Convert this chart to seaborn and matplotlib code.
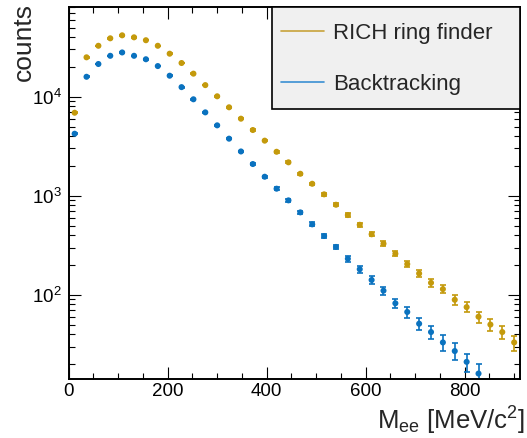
import matplotlib
matplotlib.use("Agg")
import matplotlib.pyplot as plt
import numpy as np
import pandas as pd
import seaborn as sns
from matplotlib.lines import Line2D
from matplotlib.patches import Rectangle
from matplotlib.ticker import LogLocator, MultipleLocator, NullFormatter

# ---------------- data ----------------
mass_rich = [12, 36, 60, 84, 108, 132, 156, 180, 204, 228, 252, 276, 300, 324,
             348, 372, 396, 420, 444, 468, 492, 516, 540, 564, 588, 612, 636,
             660, 684, 708, 732, 756, 780, 804, 828, 852, 876, 900]
counts_rich = [6890, 25000, 32700, 38900, 41700, 39800, 37200, 32700, 27200,
               21900, 17100, 13100, 10100, 7820, 6000, 4610, 3600, 2780, 2175,
               1667, 1321, 1033, 811, 638, 509, 408, 328, 260, 204, 164, 132,
               114, 89, 75, 60, 50, 42, 33]
err_rich = [83, 158, 181, 197, 204, 200, 193, 181, 165, 148, 131, 114, 100, 88,
            77, 68, 60, 53, 47, 41, 36, 32, 28, 25, 23, 20, 18, 16, 14, 13,
            11.5, 10.7, 9.4, 8.7, 7.7, 7.1, 6.5, 5.7]

mass_back = [12, 36, 60, 84, 108, 132, 156, 180, 204, 228, 252, 276, 300, 324,
             348, 372, 396, 420, 444, 468, 492, 516, 540, 564, 588, 612, 636,
             660, 684, 708, 732, 756, 780, 804, 828]
counts_back = [4230, 15900, 21400, 25900, 28000, 25900, 23900, 20400, 16300,
               12500, 9420, 6950, 5140, 3770, 2800, 2090, 1556, 1178, 898, 679,
               514, 392, 304, 231, 181, 141, 110, 82, 67, 51, 42, 33, 27, 21, 16]
err_back = [65, 126, 146, 161, 167, 161, 155, 143, 128, 112, 97, 83, 72, 61, 53,
            46, 39, 34, 30, 26, 23, 20, 17, 15, 13.5, 11.9, 10.5, 9.1, 8.2, 7.2,
            6.5, 5.8, 5.2, 4.5, 4.0]

labels = ["RICH ring finder", "Backtracking"]
colors = ["#c49a0c", "#0a72bf"]
legend_colors = ["#c8a23a", "#3a8fd2"]

df = pd.concat([
    pd.DataFrame({"mass": mass_rich, "counts": counts_rich, "err": err_rich, "method": labels[0]}),
    pd.DataFrame({"mass": mass_back, "counts": counts_back, "err": err_back, "method": labels[1]}),
], ignore_index=True)

# ---------------- style ----------------
sns.set_style("ticks")
plt.rcParams["font.family"] = ["Liberation Sans", "DejaVu Sans"]
plt.rcParams["mathtext.default"] = "regular"
plt.rcParams["mathtext.fontset"] = "custom"
plt.rcParams["mathtext.rm"] = "Liberation Sans"

W, H = 527, 438
fig = plt.figure(figsize=(W / 100, H / 100), dpi=100)
L, R, T, B = 68.7, 520.1, 7.3, 379.3
ax = fig.add_axes([L / W, 1 - B / H, (R - L) / W, (B - T) / H])

for lab, col in zip(labels, colors):
    sub = df[df["method"] == lab]
    ax.errorbar(sub["mass"], sub["counts"], yerr=sub["err"], fmt="none",
                ecolor=col, elinewidth=1.2, capsize=2.4, capthick=1.2, zorder=2)

sns.scatterplot(data=df, x="mass", y="counts", hue="method", palette=colors,
                s=19, linewidth=0, legend=False, ax=ax, zorder=3)

ax.set_yscale("log")
ax.set_xlim(0, 912)
ax.set_ylim(14, 80000)

ax.xaxis.set_major_locator(MultipleLocator(200))
ax.xaxis.set_minor_locator(MultipleLocator(50))
ax.yaxis.set_major_locator(LogLocator(base=10, numticks=10))
ax.yaxis.set_minor_locator(LogLocator(base=10, subs=np.arange(2, 10), numticks=20))
ax.yaxis.set_minor_formatter(NullFormatter())

ax.tick_params(which="both", direction="in", top=True, right=True,
               colors="black", labelsize=13.5)
ax.tick_params(axis="x", which="both", pad=3)
ax.tick_params(axis="y", which="both", pad=5)
ax.tick_params(which="major", length=8.5, width=0.8)
ax.tick_params(which="minor", length=4.3, width=0.8)
for sp in ax.spines.values():
    sp.set_linewidth(1.4)
    sp.set_color("black")

ax.set_xlabel(r"M$_{ee}$ [MeV/c$^{2}$]", fontsize=18.5, loc="right")
ax.set_ylabel("counts", fontsize=19, loc="top")
ax.xaxis.set_label_coords((525 - L) / (R - L), -(405 - B) / (B - T))
ax.yaxis.set_label_coords(-(L - 36) / (R - L), 1.0 + (T - 3) / (B - T))

# legend box (ROOT-style grey frame) + entries
box = Rectangle((271.7 / W, 1 - 109 / H), (520 - 271.7) / W, (109 - T) / H,
                transform=fig.transFigure, facecolor="#f0f0f0",
                edgecolor="black", linewidth=1.2, zorder=4)
fig.patches.append(box)

handles = [Line2D([0], [0], color=c, lw=1.2) for c in legend_colors]
leg = fig.legend(handles, labels, loc="upper left",
                 bbox_to_anchor=(280.7 / W, 1 - 23 / H),
                 bbox_transform=fig.transFigure,
                 fontsize=16, frameon=False, borderaxespad=0,
                 borderpad=0, handlelength=1.95, handletextpad=0.42,
                 labelspacing=1.36)
leg.set_zorder(5)

fig.savefig("out.png", dpi=100)
